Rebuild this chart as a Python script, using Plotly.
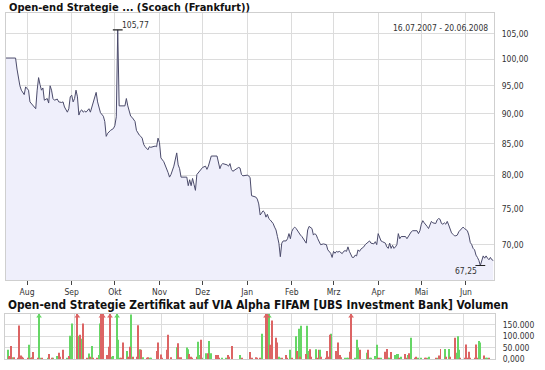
import math
import plotly.graph_objects as go

# ---------------- data ----------------
price_dates = [
    "2007-07-16", "2007-07-24", "2007-07-25", "2007-07-26", "2007-07-27", "2007-07-28", "2007-07-29", "2007-07-30",
    "2007-07-31", "2007-08-02", "2007-08-03", "2007-08-05", "2007-08-07", "2007-08-08", "2007-08-09", "2007-08-10",
    "2007-08-11", "2007-08-12", "2007-08-13", "2007-08-15", "2007-08-16", "2007-08-17", "2007-08-18", "2007-08-19",
    "2007-08-20", "2007-08-22", "2007-08-23", "2007-08-25", "2007-08-26", "2007-08-27", "2007-08-29", "2007-08-30",
    "2007-08-31", "2007-09-01", "2007-09-02", "2007-09-03", "2007-09-04", "2007-09-05", "2007-09-06", "2007-09-07",
    "2007-09-08", "2007-09-09", "2007-09-10", "2007-09-11", "2007-09-13", "2007-09-14", "2007-09-15", "2007-09-16",
    "2007-09-17", "2007-09-18", "2007-09-19", "2007-09-20", "2007-09-21", "2007-09-23", "2007-09-24", "2007-09-25",
    "2007-09-26", "2007-09-28", "2007-09-30", "2007-10-01", "2007-10-02", "2007-10-03", "2007-10-04", "2007-10-08",
    "2007-10-09", "2007-10-10", "2007-10-12", "2007-10-13", "2007-10-15", "2007-10-16", "2007-10-17", "2007-10-18",
    "2007-10-19", "2007-10-20", "2007-10-21", "2007-10-22", "2007-10-24", "2007-10-25", "2007-10-26", "2007-10-28",
    "2007-10-29", "2007-10-30", "2007-10-31", "2007-11-01", "2007-11-02", "2007-11-04", "2007-11-05", "2007-11-06",
    "2007-11-07", "2007-11-08", "2007-11-09", "2007-11-11", "2007-11-12", "2007-11-13", "2007-11-14", "2007-11-15",
    "2007-11-16", "2007-11-20", "2007-11-21", "2007-11-22", "2007-11-23", "2007-11-24", "2007-11-25", "2007-11-26",
    "2007-11-27", "2007-11-29", "2007-11-30", "2007-12-01", "2007-12-03", "2007-12-04", "2007-12-05", "2007-12-06",
    "2007-12-07", "2007-12-11", "2007-12-12", "2007-12-13", "2007-12-14", "2007-12-15", "2007-12-18", "2007-12-19",
    "2007-12-20", "2007-12-21", "2007-12-22", "2007-12-24", "2007-12-26", "2007-12-27", "2007-12-28", "2007-12-29",
    "2008-01-01", "2008-01-02", "2008-01-03", "2008-01-04", "2008-01-05", "2008-01-07", "2008-01-08", "2008-01-09",
    "2008-01-10", "2008-01-11", "2008-01-12", "2008-01-13", "2008-01-14", "2008-01-15", "2008-01-16", "2008-01-17",
    "2008-01-18", "2008-01-19", "2008-01-20", "2008-01-21", "2008-01-22", "2008-01-23", "2008-01-24", "2008-01-25",
    "2008-01-26", "2008-01-28", "2008-01-29", "2008-01-30", "2008-01-31", "2008-02-01", "2008-02-02", "2008-02-03",
    "2008-02-04", "2008-02-06", "2008-02-07", "2008-02-08", "2008-02-09", "2008-02-10", "2008-02-11", "2008-02-12",
    "2008-02-13", "2008-02-15", "2008-02-16", "2008-02-17", "2008-02-18", "2008-02-19", "2008-02-21", "2008-02-23",
    "2008-02-25", "2008-02-26", "2008-02-28", "2008-02-29", "2008-03-01", "2008-03-02", "2008-03-03", "2008-03-04",
    "2008-03-05", "2008-03-07", "2008-03-08", "2008-03-09", "2008-03-10", "2008-03-11", "2008-03-12", "2008-03-14",
    "2008-03-15", "2008-03-16", "2008-03-17", "2008-03-18", "2008-03-19", "2008-03-20", "2008-03-22", "2008-03-23",
    "2008-03-24", "2008-03-25", "2008-03-26", "2008-03-27", "2008-03-29", "2008-03-30", "2008-03-31", "2008-04-01",
    "2008-04-02", "2008-04-03", "2008-04-04", "2008-04-06", "2008-04-07", "2008-04-08", "2008-04-09", "2008-04-10",
    "2008-04-11", "2008-04-12", "2008-04-13", "2008-04-14", "2008-04-15", "2008-04-16", "2008-04-17", "2008-04-20",
    "2008-04-21", "2008-04-22", "2008-04-23", "2008-04-24", "2008-04-25", "2008-04-28", "2008-04-29", "2008-04-30",
    "2008-05-01", "2008-05-02", "2008-05-03", "2008-05-04", "2008-05-05", "2008-05-06", "2008-05-07", "2008-05-08",
    "2008-05-09", "2008-05-11", "2008-05-12", "2008-05-13", "2008-05-14", "2008-05-15", "2008-05-16", "2008-05-17",
    "2008-05-18", "2008-05-19", "2008-05-20", "2008-05-21", "2008-05-22", "2008-05-23", "2008-05-24", "2008-05-25",
    "2008-05-26", "2008-05-27", "2008-05-28", "2008-05-29", "2008-05-30", "2008-05-31", "2008-06-02", "2008-06-03",
    "2008-06-04", "2008-06-05", "2008-06-06", "2008-06-07", "2008-06-08", "2008-06-09", "2008-06-10", "2008-06-11",
    "2008-06-12", "2008-06-13", "2008-06-14", "2008-06-15", "2008-06-16", "2008-06-17", "2008-06-18", "2008-06-19",
    "2008-06-20",
]
price_values = [
    100.2, 100.2, 98.1, 96.0, 95.0, 94.2, 93.8, 93.4,
    94.8, 94.2, 92.1, 91.4, 90.9, 94.2, 96.5, 95.2,
    94.2, 94.6, 92.4, 92.7, 91.9, 95.0, 94.2, 92.7,
    92.4, 92.6, 92.1, 92.0, 92.1, 91.2, 90.3, 90.9,
    93.0, 93.3, 92.1, 92.7, 94.2, 93.0, 89.8, 90.5,
    90.7, 90.3, 90.5, 90.3, 90.9, 90.3, 91.2, 92.1,
    93.0, 93.8, 92.1, 91.2, 90.2, 89.6, 88.7, 86.2,
    86.7, 87.2, 87.5, 88.0, 89.5, 105.77, 91.4, 91.4,
    92.7, 91.4, 89.6, 89.4, 88.7, 87.2, 86.7, 86.4,
    86.2, 85.9, 84.9, 84.5, 84.0, 84.5, 84.4, 84.5,
    84.6, 84.5, 85.9, 85.2, 82.7, 82.1, 81.6, 81.0,
    80.4, 79.7, 80.1, 81.4, 82.7, 83.5, 81.6, 81.0,
    79.7, 79.7, 78.4, 79.3, 78.4, 79.5, 78.6, 77.7,
    80.1, 80.6, 81.0, 81.2, 81.4, 80.9, 81.4, 82.1,
    83.0, 83.0, 81.8, 81.0, 81.6, 81.8, 81.6, 81.4,
    81.8, 80.9, 80.6, 80.9, 81.2, 81.1, 80.1, 79.9,
    80.0, 79.9, 79.6, 76.9, 76.8, 76.7, 76.4, 75.7,
    74.1, 74.5, 74.7, 74.5, 73.8, 74.2, 73.6, 73.4,
    73.2, 72.9, 72.4, 72.0, 71.1, 70.2, 68.4, 70.2,
    70.5, 70.5, 70.8, 71.5, 70.8, 71.8, 72.2, 72.4,
    72.2, 71.5, 71.3, 71.1, 70.8, 70.4, 70.2, 72.0,
    72.5, 72.2, 71.3, 71.5, 71.3, 70.8, 70.0, 70.1,
    70.0, 69.3, 68.85, 68.3, 69.1, 68.85, 69.1, 69.0,
    69.1, 68.8, 69.1, 69.2, 69.1, 69.7, 69.1, 68.3,
    68.3, 68.6, 68.5, 69.3, 69.1, 69.4, 69.7, 70.0,
    70.2, 70.3, 70.5, 70.2, 70.1, 70.4, 70.0, 71.5,
    71.1, 70.5, 70.4, 70.2, 69.7, 69.5, 70.2, 69.5,
    69.9, 69.5, 69.7, 70.0, 71.5, 70.8, 71.1, 71.1,
    70.8, 71.1, 71.5, 71.75, 71.9, 71.9, 71.5, 71.9,
    72.8, 73.3, 73.0, 72.8, 72.5, 72.2, 72.8, 73.2,
    73.0, 72.9, 73.4, 73.6, 73.5, 72.9, 72.8, 73.0,
    72.8, 73.2, 72.7, 72.1, 71.6, 71.4, 71.2, 71.2,
    71.3, 71.75, 72.0, 72.2, 72.4, 72.2, 71.9, 71.3,
    70.3, 70.0, 69.5, 69.3, 68.6, 68.3, 67.9, 67.25,
    67.8, 68.5, 68.2, 68.5, 68.2, 68.0, 68.3, 68.0,
    67.9,
]

vol_dates = [
    "2007-07-16", "2007-07-17", "2007-07-18", "2007-07-19", "2007-07-20", "2007-07-23", "2007-07-24", "2007-07-25",
    "2007-07-26", "2007-07-27", "2007-07-30", "2007-07-31", "2007-08-01", "2007-08-02", "2007-08-03", "2007-08-06",
    "2007-08-07", "2007-08-08", "2007-08-09", "2007-08-13", "2007-08-14", "2007-08-16", "2007-08-17", "2007-08-20",
    "2007-08-21", "2007-08-22", "2007-08-24", "2007-08-27", "2007-08-28", "2007-08-29", "2007-08-30", "2007-09-03",
    "2007-09-04", "2007-09-05", "2007-09-06", "2007-09-07", "2007-09-10", "2007-09-11", "2007-09-12", "2007-09-13",
    "2007-09-14", "2007-09-17", "2007-09-18", "2007-09-19", "2007-09-20", "2007-09-21", "2007-09-24", "2007-09-25",
    "2007-09-26", "2007-09-27", "2007-09-28", "2007-10-01", "2007-10-02", "2007-10-03", "2007-10-04", "2007-10-05",
    "2007-10-08", "2007-10-09", "2007-10-10", "2007-10-11", "2007-10-12", "2007-10-15", "2007-10-16", "2007-10-17",
    "2007-10-18", "2007-10-19", "2007-10-22", "2007-10-23", "2007-10-24", "2007-10-25", "2007-10-29", "2007-10-30",
    "2007-11-01", "2007-11-02", "2007-11-05", "2007-11-06", "2007-11-08", "2007-11-12", "2007-11-13", "2007-11-14",
    "2007-11-15", "2007-11-19", "2007-11-20", "2007-11-21", "2007-11-22", "2007-11-23", "2007-11-26", "2007-11-27",
    "2007-11-28", "2007-11-29", "2007-11-30", "2007-12-03", "2007-12-04", "2007-12-05", "2007-12-06", "2007-12-10",
    "2007-12-11", "2007-12-12", "2007-12-14", "2007-12-17", "2007-12-18", "2007-12-19", "2007-12-21", "2007-12-27",
    "2007-12-28", "2008-01-03", "2008-01-04", "2008-01-07", "2008-01-08", "2008-01-10", "2008-01-11", "2008-01-14",
    "2008-01-15", "2008-01-16", "2008-01-17", "2008-01-18", "2008-01-21", "2008-01-22", "2008-01-23", "2008-01-24",
    "2008-01-25", "2008-01-28", "2008-01-29", "2008-01-31", "2008-02-01", "2008-02-04", "2008-02-05", "2008-02-06",
    "2008-02-07", "2008-02-08", "2008-02-11", "2008-02-12", "2008-02-13", "2008-02-14", "2008-02-15", "2008-02-18",
    "2008-02-19", "2008-02-20", "2008-02-21", "2008-02-22", "2008-02-25", "2008-02-26", "2008-02-27", "2008-02-28",
    "2008-02-29", "2008-03-03", "2008-03-04", "2008-03-05", "2008-03-06", "2008-03-07", "2008-03-10", "2008-03-11",
    "2008-03-12", "2008-03-13", "2008-03-14", "2008-03-17", "2008-03-18", "2008-03-19", "2008-03-20", "2008-03-25",
    "2008-03-26", "2008-03-27", "2008-03-28", "2008-03-31", "2008-04-01", "2008-04-02", "2008-04-03", "2008-04-04",
    "2008-04-07", "2008-04-08", "2008-04-09", "2008-04-10", "2008-04-11", "2008-04-14", "2008-04-15", "2008-04-16",
    "2008-04-17", "2008-04-18", "2008-04-21", "2008-04-22", "2008-04-23", "2008-04-24", "2008-04-25", "2008-04-28",
    "2008-04-29", "2008-04-30", "2008-05-02", "2008-05-05", "2008-05-06", "2008-05-07", "2008-05-08", "2008-05-13",
    "2008-05-14", "2008-05-15", "2008-05-16", "2008-05-19", "2008-05-20", "2008-05-22", "2008-05-23", "2008-05-26",
    "2008-05-27", "2008-05-28", "2008-05-29", "2008-05-30", "2008-06-02", "2008-06-03", "2008-06-04", "2008-06-05",
    "2008-06-06", "2008-06-09", "2008-06-10", "2008-06-11", "2008-06-12", "2008-06-13", "2008-06-16", "2008-06-17",
    "2008-06-18", "2008-06-19",
]
vol_values = [
    40000, 13000, 57000, 8000, 8000, 6000, 146000, 16000,
    10000, 6000, 6000, 62000, 6000, 8000, 31000, 6000,
    250000, 6000, 6000, 6000, 22000, 6000, 6000, 13000,
    28000, 10000, 40000, 6000, 13000, 101000, 154000, 250000,
    101000, 106000, 88000, 154000, 6000, 24000, 10000, 57000,
    6000, 6000, 18000, 154000, 250000, 250000, 18000, 53000,
    250000, 10000, 13000, 250000, 84000, 6000, 6000, 72000,
    35000, 10000, 54000, 194000, 10000, 10000, 147000, 43000,
    40000, 8000, 6000, 8000, 6000, 6000, 35000, 72000,
    20000, 6000, 40000, 106000, 8000, 51000, 69000, 8000,
    8000, 50000, 43000, 22000, 10000, 6000, 10000, 75000,
    18000, 84000, 6000, 25000, 25000, 79000, 25000, 18000,
    18000, 6000, 6000, 6000, 18000, 10000, 57000, 18000,
    6000, 31000, 6000, 8000, 6000, 6000, 110000, 250000,
    250000, 250000, 62000, 167000, 93000, 72000, 10000, 6000,
    6000, 18000, 6000, 40000, 6000, 99000, 35000, 132000,
    10000, 145000, 22000, 145000, 35000, 43000, 10000, 43000,
    6000, 40000, 40000, 10000, 6000, 35000, 10000, 106000,
    110000, 35000, 18000, 72000, 18000, 8000, 6000, 6000,
    6000, 32000, 250000, 6000, 84000, 50000, 40000, 28000,
    40000, 6000, 6000, 13000, 62000, 6000, 6000, 6000,
    32000, 44000, 6000, 6000, 31000, 18000, 22000, 22000,
    6000, 10000, 22000, 6000, 18000, 25000, 93000, 6000,
    10000, 6000, 6000, 6000, 6000, 6000, 10000, 6000,
    6000, 15000, 44000, 44000, 10000, 44000, 10000, 93000,
    28000, 99000, 40000, 6000, 6000, 63000, 6000, 32000,
    6000, 6000, 63000, 6000, 79000, 72000, 15000, 6000,
    6000, 6000,
]
vol_up = [
    1, 0, 0, 1, 0, 0, 0, 0,
    0, 0, 0, 1, 0, 1, 0, 0,
    1, 1, 0, 1, 0, 0, 1, 1,
    0, 0, 0, 1, 0, 1, 1, 0,
    1, 0, 1, 0, 0, 1, 0, 1,
    0, 0, 1, 1, 0, 0, 0, 0,
    0, 1, 1, 1, 1, 1, 0, 0,
    1, 0, 0, 1, 0, 0, 0, 1,
    0, 1, 0, 0, 1, 1, 0, 0,
    0, 0, 0, 0, 0, 1, 0, 0,
    0, 1, 1, 0, 0, 0, 0, 1,
    1, 0, 1, 1, 0, 1, 1, 0,
    0, 0, 1, 1, 0, 0, 0, 1,
    0, 0, 0, 0, 0, 0, 1, 0,
    0, 1, 0, 0, 0, 0, 1, 1,
    0, 0, 0, 1, 0, 1, 0, 1,
    0, 1, 0, 1, 1, 0, 0, 1,
    0, 0, 1, 0, 0, 0, 0, 0,
    1, 0, 1, 0, 0, 0, 1, 1,
    1, 0, 0, 1, 1, 1, 0, 1,
    0, 1, 1, 1, 1, 0, 0, 1,
    0, 0, 1, 1, 0, 1, 1, 1,
    0, 1, 0, 0, 1, 0, 1, 0,
    0, 1, 1, 0, 0, 1, 1, 0,
    1, 0, 0, 1, 0, 1, 0, 0,
    1, 1, 1, 0, 0, 0, 0, 0,
    0, 0, 0, 0, 1, 1, 0, 1,
    1, 0,
]

month_ticks = ["2007-08-01", "2007-09-01", "2007-10-01", "2007-11-01", "2007-12-01", "2008-01-01",
               "2008-02-01", "2008-03-01", "2008-04-01", "2008-05-01", "2008-06-01"]
month_labels = ["Aug", "Sep", "Okt", "Nov", "Dez", "Jan", "Feb", "Mrz", "Apr", "Mai", "Jun"]
price_ticks = [70, 75, 80, 85, 90, 95, 100, 105]
price_tick_labels = ["70,00", "75,00", "80,00", "85,00", "90,00", "95,00", "100,00", "105,00"]
vol_ticks = [0, 50000, 100000, 150000]
vol_tick_labels = ["0,000", "50.000", "100.000", "150.000"]

title_price = "Open-end Strategie ... (Scoach (Frankfurt))"
title_vol = "Open-end Strategie Zertifikat auf VIA Alpha FIFAM [UBS Investment Bank] Volumen"
period_text = "16.07.2007 - 20.06.2008"

# ---------------- styling ----------------
W, H = 545, 370
LINE = "#4b4b6b"
FILL = "#efeffb"
GRID = "#dcdcdc"
FRAME = "#cfcfcf"
GREEN = "#66d666"
RED = "#dc6464"
TXT = "#333333"
FONT = "DejaVu Sans Condensed, DejaVu Sans, Verdana, sans-serif"
VOL_MAX = 197000
P_LO, P_HI = 65.38, 109.3

def fx(p):
    return p / W

def fy(p):
    return 1 - p / H

fig = go.Figure()

# baseline for the area fill (log axis)
fig.add_trace(go.Scatter(x=price_dates, y=[P_LO * 0.9] * len(price_dates), mode="lines",
                         line=dict(width=0, color=FILL), hoverinfo="skip", showlegend=False,
                         xaxis="x", yaxis="y"))
fig.add_trace(go.Scatter(x=price_dates, y=price_values, mode="lines",
                         line=dict(color=LINE, width=1), fill="tonexty", fillcolor=FILL,
                         showlegend=False, xaxis="x", yaxis="y"))

imax = max(range(len(price_values)), key=lambda i: price_values[i])
imin = min(range(len(price_values)), key=lambda i: price_values[i])
fig.add_trace(go.Scatter(x=[price_dates[imax], price_dates[imin]],
                         y=[price_values[imax], price_values[imin]], mode="markers",
                         marker=dict(symbol="line-ew", size=7, line=dict(color="#222222", width=1.2)),
                         showlegend=False, hoverinfo="skip", xaxis="x", yaxis="y"))

def de(v):
    return f"{v:.2f}".replace(".", ",")

# volume bars
day_ms = 86400000
for flag, col in ((1, GREEN), (0, RED)):
    xs = [d for d, u in zip(vol_dates, vol_up) if u == flag]
    ys = [v for v, u in zip(vol_values, vol_up) if u == flag]
    fig.add_trace(go.Bar(x=xs, y=ys, width=0.7 * day_ms, marker=dict(color=col, line=dict(width=0)),
                         showlegend=False, xaxis="x2", yaxis="y2"))
    ax = [d for d, v, u in zip(vol_dates, vol_values, vol_up) if u == flag and v > VOL_MAX]
    if ax:
        fig.add_trace(go.Scatter(x=ax, y=[VOL_MAX * 0.945] * len(ax), mode="markers",
                                 marker=dict(symbol="triangle-up", size=5, color=col),
                                 showlegend=False, hoverinfo="skip", xaxis="x2", yaxis="y2", cliponaxis=False))

annotations = [
    dict(text=f"<b>{title_price}</b>", x=fx(7), y=fy(7.5), xref="paper", yref="paper",
         xanchor="left", yanchor="middle", showarrow=False, font=dict(family=FONT, size=11, color="#111111")),
    dict(text=f"<b>{title_vol}</b>", x=fx(6), y=fy(309.5), xref="paper", yref="paper",
         xanchor="left", yanchor="middle", showarrow=False, font=dict(family=FONT, size=11.8, color="#111111")),
    dict(text=period_text, x=fx(490), y=fy(28), xref="paper", yref="paper",
         xanchor="right", yanchor="middle", showarrow=False, font=dict(family=FONT, size=8.5, color=TXT)),
    dict(text=de(price_values[imax]), x=price_dates[imax], y=math.log10(price_values[imax]), xref="x", yref="y",
         xanchor="left", yanchor="bottom", xshift=2, yshift=-2, showarrow=False,
         font=dict(family=FONT, size=8.5, color=TXT)),
    dict(text=de(price_values[imin]), x=price_dates[imin], y=math.log10(price_values[imin]), xref="x", yref="y",
         xanchor="right", yanchor="top", xshift=-1, yshift=1, showarrow=False,
         font=dict(family=FONT, size=8.5, color=TXT)),
]

axis_common = dict(showgrid=True, gridcolor=GRID, gridwidth=1, showline=True, mirror=True,
                   linecolor=FRAME, linewidth=1, zeroline=False)

fig.update_layout(
    width=W, height=H, margin=dict(l=0, r=0, t=0, b=0),
    paper_bgcolor="white", plot_bgcolor="white", barmode="overlay",
    showlegend=False, annotations=annotations,
    xaxis=dict(type="date", domain=[fx(5.5), fx(494)], range=["2007-07-17", "2008-06-20 12:00"],
               tickmode="array", tickvals=month_ticks, ticktext=month_labels,
               ticks="outside", ticklen=4, tickcolor="#444444", tickwidth=1,
               tickfont=dict(family=FONT, size=8.5, color=TXT), anchor="y", **axis_common),
    yaxis=dict(type="log", domain=[fy(284), fy(13)], range=[math.log10(P_LO), math.log10(P_HI)],
               side="right", tickmode="array", tickvals=price_ticks, ticktext=price_tick_labels,
               ticks="", ticklabelstandoff=5,
               tickfont=dict(family=FONT, size=8.5, color=TXT), anchor="x", **axis_common),
    xaxis2=dict(type="date", domain=[fx(5), fx(495)], range=["2007-07-14", "2008-06-23 10:00"],
                tickmode="array", tickvals=month_ticks, showticklabels=False, ticks="",
                anchor="y2", **axis_common),
    yaxis2=dict(domain=[fy(364), fy(318)], range=[0, VOL_MAX], side="right",
                tickmode="array", tickvals=vol_ticks, ticktext=vol_tick_labels, ticks="",
                ticklabelstandoff=5,
                tickfont=dict(family=FONT, size=8.5, color=TXT), anchor="x2", **axis_common),
)

fig.write_html("out.html", config={"displayModeBar": False},
               post_script="document.body.style.margin='0px';")
